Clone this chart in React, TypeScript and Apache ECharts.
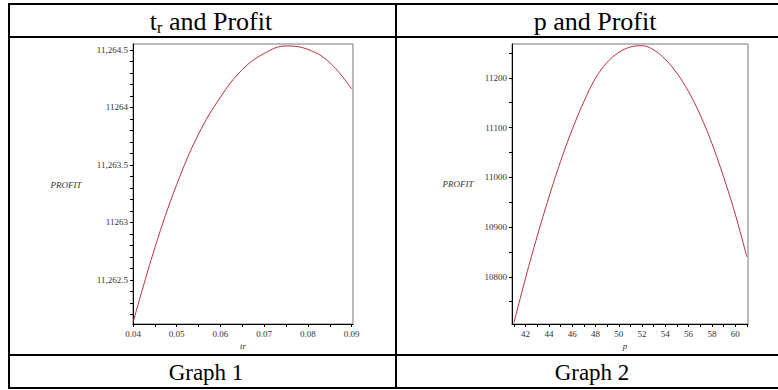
import React, { useEffect, useRef } from "react";
import * as echarts from "echarts";

// Graph 1: t_r vs Profit
const trValues = [0.04, 0.045, 0.05, 0.055, 0.06, 0.065, 0.07, 0.075, 0.08, 0.085, 0.09];
const profitTr = [11262.13, 11262.78, 11263.33, 11263.77, 11264.09, 11264.33, 11264.47, 11264.535, 11264.505, 11264.39, 11264.16];
const leftXLabelValues = [0.04, 0.05, 0.06, 0.07, 0.08, 0.09];
const leftXLabels = ["0.04", "0.05", "0.06", "0.07", "0.08", "0.09"];
const leftYLabelValues = [11262.5, 11263, 11263.5, 11264, 11264.5];
const leftYLabels = ["11,262.5", "11263", "11,263.5", "11264", "11,264.5"];

// Graph 2: p vs Profit
const pValues = [41, 42, 43, 44, 45, 46, 47, 48, 49, 50, 51, 52, 53, 54, 55, 56, 57, 58, 59, 60, 61];
const profitP = [10708, 10798, 10882, 10960, 11032, 11096, 11152, 11199, 11231, 11251, 11262, 11264.5, 11256, 11237, 11209, 11172, 11125, 11068, 11001, 10926, 10840];
const rightXLabelValues = [42, 44, 46, 48, 50, 52, 54, 56, 58, 60];
const rightYLabelValues = [10800, 10900, 11000, 11100, 11200];

const titles = ["and Profit", "p and Profit"];
const footers = ["Graph 1", "Graph 2"];

function range(a: number, b: number, step: number): number[] {
  const out: number[] = [];
  const n = Math.round((b - a) / step);
  for (let i = 0; i <= n; i++) out.push(+(a + i * step).toFixed(6));
  return out;
}

const SERIF = "Liberation Serif, DejaVu Serif, serif";
const labelFont = { fontFamily: SERIF, fontSize: 9, color: "#333" };

export default function App() {
  const ref = useRef<HTMLDivElement>(null);
  useEffect(() => {
    if (!ref.current) return;
    const chart = echarts.init(ref.current, undefined, { renderer: "svg" });
    const lineStyle = { color: "#000", width: 1 };
    const labelFor = (vals: number[], labs: string[]) => (v: number) => {
      let best = 0;
      for (let i = 0; i < vals.length; i++) if (Math.abs(vals[i] - v) < Math.abs(vals[best] - v)) best = i;
      return labs[best];
    };
    const head = { fontFamily: SERIF, fontSize: 26, fill: "#000", align: "center", verticalAlign: "middle" };
    const foot = { fontFamily: SERIF, fontSize: 23, fill: "#000", align: "center", verticalAlign: "middle" };
    const small = { fontFamily: SERIF, fontStyle: "italic", fontSize: 9, fill: "#333", align: "center", verticalAlign: "middle" };
    chart.setOption({
      animation: false,
      backgroundColor: "#fff",
      textStyle: { fontFamily: SERIF },
      grid: [
        { left: 133, top: 44, width: 220, height: 280, show: true, borderColor: "#777", borderWidth: 1, backgroundColor: "transparent" },
        { left: 512, top: 44, width: 236, height: 280, show: true, borderColor: "#777", borderWidth: 1, backgroundColor: "transparent" },
      ],
      xAxis: [
        {
          type: "value", gridIndex: 0, min: 0.04, max: 0.0903,
          axisLine: { show: true, onZero: false, lineStyle },
          axisTick: { show: true, length: 3, customValues: range(0.04, 0.09, 0.005), lineStyle },
          axisLabel: { ...labelFont, margin: 5, customValues: leftXLabelValues, formatter: labelFor(leftXLabelValues, leftXLabels) },
          splitLine: { show: false },
        },
        {
          type: "value", gridIndex: 1, min: 40.83, max: 61.1,
          axisLine: { show: true, onZero: false, lineStyle },
          axisTick: { show: true, length: 3, customValues: range(41, 61, 1), lineStyle },
          axisLabel: { ...labelFont, margin: 5, customValues: rightXLabelValues, formatter: (v: number) => String(Math.round(v)) },
          splitLine: { show: false },
        },
      ],
      yAxis: [
        {
          type: "value", gridIndex: 0, min: 11262.117, max: 11264.552,
          axisLine: { show: true, onZero: false, lineStyle },
          axisTick: { show: true, length: 3, customValues: range(11262.2, 11264.5, 0.1), lineStyle },
          axisLabel: { ...labelFont, margin: 5, customValues: leftYLabelValues, formatter: labelFor(leftYLabelValues, leftYLabels) },
          splitLine: { show: false },
        },
        {
          type: "value", gridIndex: 1, min: 10705, max: 11268,
          axisLine: { show: true, onZero: false, lineStyle },
          axisTick: { show: true, length: 3, customValues: range(10750, 11250, 50), lineStyle },
          axisLabel: { ...labelFont, margin: 5, customValues: rightYLabelValues, formatter: (v: number) => String(Math.round(v)) },
          splitLine: { show: false },
        },
      ],
      series: [
        {
          type: "line", xAxisIndex: 0, yAxisIndex: 0, smooth: 0.4, showSymbol: false,
          data: trValues.map((x, i) => [x, profitTr[i]]),
          lineStyle: { color: "#b8323c", width: 1 },
        },
        {
          type: "line", xAxisIndex: 1, yAxisIndex: 1, smooth: 0.4, showSymbol: false,
          data: pValues.map((x, i) => [x, profitP[i]]),
          lineStyle: { color: "#b8323c", width: 1 },
        },
      ],
      graphic: [
        // table lines
        { type: "line", shape: { x1: 9, y1: 4, x2: 778, y2: 4 }, style: { stroke: "#000", lineWidth: 2 } },
        { type: "line", shape: { x1: 9, y1: 37, x2: 778, y2: 37 }, style: { stroke: "#000", lineWidth: 2 } },
        { type: "line", shape: { x1: 9, y1: 355, x2: 778, y2: 355 }, style: { stroke: "#000", lineWidth: 2 } },
        { type: "line", shape: { x1: 9, y1: 388, x2: 778, y2: 388 }, style: { stroke: "#000", lineWidth: 2 } },
        { type: "line", shape: { x1: 9, y1: 3, x2: 9, y2: 389 }, style: { stroke: "#000", lineWidth: 2 } },
        { type: "line", shape: { x1: 396, y1: 3, x2: 396, y2: 389 }, style: { stroke: "#000", lineWidth: 2 } },
        // header titles
        {
          type: "text", x: 211, y: 21,
          style: {
            text: "{a|t}{s|r}{a| " + titles[0] + "}",
            rich: {
              a: { fontFamily: SERIF, fontSize: 26, fill: "#000" },
              s: { fontFamily: SERIF, fontSize: 16, fill: "#000", padding: [13, 0, 0, 0] },
            },
            align: "center", verticalAlign: "middle",
          },
        },
        { type: "text", x: 595, y: 21, style: { ...head, text: titles[1] } },
        { type: "text", x: 206, y: 372, style: { ...foot, text: footers[0] } },
        { type: "text", x: 592, y: 372, style: { ...foot, text: footers[1] } },
        // axis names
        { type: "text", x: 66, y: 185, style: { ...small, text: "PROFIT" } },
        { type: "text", x: 458, y: 184, style: { ...small, text: "PROFIT" } },
        { type: "text", x: 243, y: 346, style: { ...small, text: "tr" } },
        { type: "text", x: 625, y: 346, style: { ...small, text: "p" } },
      ],
    });
    return () => chart.dispose();
  }, []);
  return <div ref={ref} style={{ position: "absolute", left: 0, top: 0, width: 778, height: 390 }} />;
}
